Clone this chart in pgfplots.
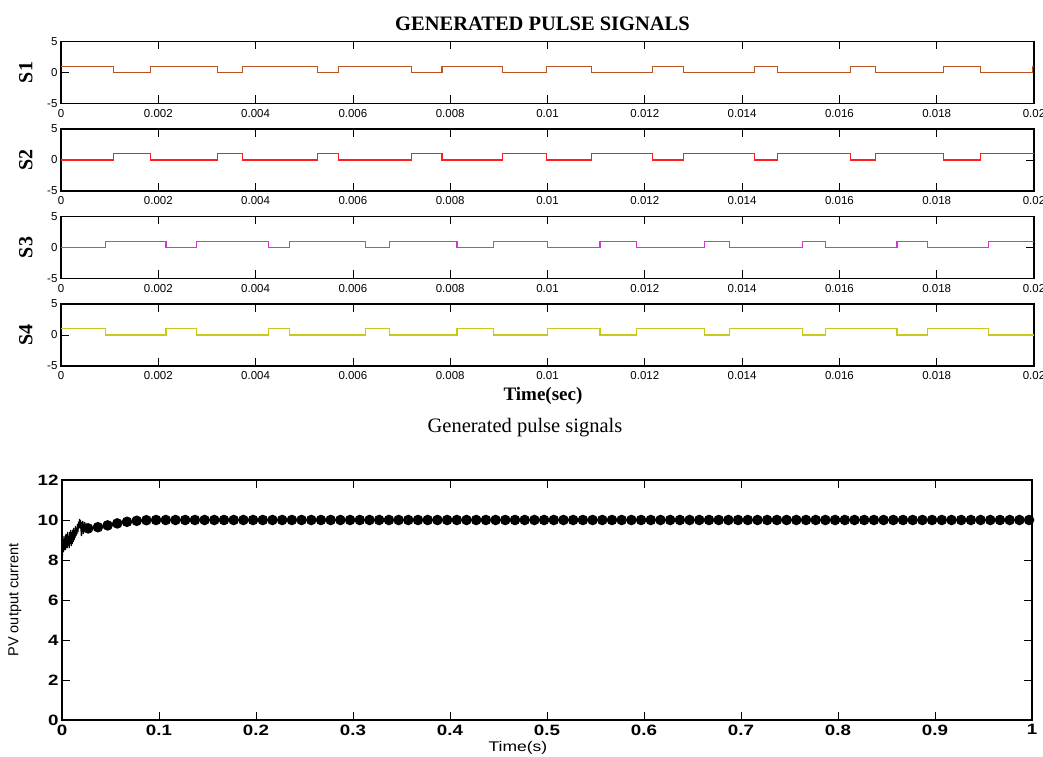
\documentclass[border=0pt]{standalone}
\usepackage{fontspec}
\setmainfont{Liberation Sans}
\newfontfamily\tnr{Liberation Serif}
\newfontfamily\widesans[FakeStretch=1.25]{Liberation Sans}
\usepackage{pgfplots}
\pgfplotsset{compat=1.18}

\definecolor{sone}{RGB}{185,85,35}
\definecolor{stwo}{RGB}{255,30,30}
\definecolor{sthree}{RGB}{215,50,215}
\definecolor{sfour}{RGB}{200,200,30}

\pgfplotsset{
 pulse/.style={
  scale only axis, width=973pt, height=62pt, anchor=south west,
  xmin=0, xmax=0.02, ymin=-5, ymax=5,
  scaled x ticks=false, scaled y ticks=false,
  xtick={0,0.002,0.004,0.006,0.008,0.01,0.012,0.014,0.016,0.018,0.02},
  xticklabels={0,0.002,0.004,0.006,0.008,0.01,0.012,0.014,0.016,0.018,0.02},
  ytick={-5,0,5}, yticklabels={-5,0,5},
  tick align=inside, major tick length=8pt,
  tick style={black, line width=0.7pt},
  axis line style={line width=1.1pt},
  tick label style={font=\fontsize{11.5}{13}\selectfont},
  xticklabel style={yshift=-2pt},
  every axis y label/.style={at={(rel axis cs:-0.036,0.5)}, rotate=90, anchor=center,
    font=\tnr\bfseries\fontsize{20}{22}\selectfont},
 },
 sig/.style={const plot, line width=1.3pt},
}

\begin{document}
\begin{tikzpicture}

\begin{axis}[pulse, at={(61pt,652.5pt)}, ylabel={S1}]
\addplot[sig, sone] coordinates {
(0,1)(0.001074,0)(0.001838,1)(0.003214,0)(0.003736,1)(0.005278,0)(0.005709,1)
(0.007210,0)(0.007829,1)(0.009079,0)(0.009983,1)(0.010908,0)(0.012162,1)
(0.012792,0)(0.014251,1)(0.014724,0)(0.016232,1)(0.016746,0)(0.018136,1)
(0.018896,0)(0.01997,1)(0.02,1)};
\end{axis}

\begin{axis}[pulse, at={(61pt,565pt)}, ylabel={S2}]
\addplot[sig, stwo] coordinates {
(0,0)(0.001074,1)(0.001838,0)(0.003214,1)(0.003736,0)(0.005278,1)(0.005709,0)
(0.007210,1)(0.007829,0)(0.009079,1)(0.009983,0)(0.010908,1)(0.012162,0)
(0.012792,1)(0.014251,0)(0.014724,1)(0.016232,0)(0.016746,1)(0.018136,0)
(0.018896,1)(0.02,1)};
\end{axis}

\begin{axis}[pulse, at={(61pt,477.5pt)}, ylabel={S3}]
\addplot[sig, sthree] coordinates {
(0,0)(0.000921,1)(0.002158,0)(0.002783,1)(0.004271,0)(0.004701,1)(0.006265,0)
(0.006758,1)(0.008142,0)(0.008892,1)(0.010004,0)(0.011079,1)(0.011833,0)
(0.013223,1)(0.013737,0)(0.015245,1)(0.015718,0)(0.017184,1)(0.017807,0)
(0.019061,1)(0.02,1)};
\end{axis}

\begin{axis}[pulse, at={(61pt,390pt)}, ylabel={S4}]
\addplot[sig, sfour] coordinates {
(0,1)(0.000921,0)(0.002158,1)(0.002783,0)(0.004271,1)(0.004701,0)(0.006265,1)
(0.006758,0)(0.008142,1)(0.008892,0)(0.010004,1)(0.011079,0)(0.011833,1)
(0.013223,0)(0.013737,1)(0.015245,0)(0.015718,1)(0.017184,0)(0.017807,1)
(0.019061,0)(0.02,0)};
\end{axis}

\node[font=\tnr\bfseries\fontsize{20.5}{22}\selectfont] at (542.5pt,732.5pt) {GENERATED PULSE SIGNALS};
\node[font=\tnr\bfseries\fontsize{19}{21}\selectfont] at (543pt,360pt) {Time(sec)};
\node[font=\tnr\fontsize{20.5}{22}\selectfont] at (525pt,328pt) {Generated pulse signals};

% PV output current
\begin{axis}[
 scale only axis, width=970pt, height=240pt, at={(62pt,36pt)}, anchor=south west,
 xmin=0, xmax=1, ymin=0, ymax=12,
 scaled x ticks=false,
 xtick={0,0.1,0.2,0.3,0.4,0.5,0.6,0.7,0.8,0.9,1},
 xticklabels={0,0.1,0.2,0.3,0.4,0.5,0.6,0.7,0.8,0.9,1},
 ytick={0,2,4,6,8,10,12}, yticklabels={0,2,4,6,8,10,12},
 tick align=inside, major tick length=8pt,
 tick style={black, line width=0.7pt},
 axis line style={line width=1.1pt},
 tick label style={font=\widesans\bfseries\fontsize{15}{17}\selectfont},
 xticklabel style={yshift=-1pt},
 every axis x label/.style={at={(rel axis cs:0.47,-0.117)}, anchor=center,
   font=\widesans\fontsize{14}{16}\selectfont},
 every axis y label/.style={at={(rel axis cs:-0.0485,0.5)}, rotate=90, anchor=center,
   font=\fontsize{14.5}{16}\selectfont},
 xlabel={Time(s)}, ylabel={PV output current},
]
\addplot[black, line width=1.2pt] coordinates {
(0,10.1)(0.0005,8.2)(0.001,9.0)(0.0015,8.4)(0.002,9.2)(0.0025,8.5)(0.003,9.1)
(0.0035,8.5)(0.004,9.3)(0.0045,8.6)(0.005,9.3)(0.0055,8.6)(0.006,9.4)(0.0065,8.7)
(0.007,9.2)(0.0075,8.6)(0.008,9.4)(0.0085,8.8)(0.009,9.5)(0.0095,8.7)(0.010,9.4)
(0.0105,8.8)(0.011,9.5)(0.0115,8.9)(0.012,9.6)(0.0125,9.0)(0.013,9.5)(0.0135,9.1)
(0.014,9.7)(0.0145,9.2)(0.015,9.6)(0.0155,9.3)(0.016,9.8)(0.0165,9.4)(0.017,9.9)
(0.0175,9.6)(0.018,10.05)(0.0185,9.8)(0.019,10.0)(0.0195,9.6)(0.020,9.2)
(0.0205,9.9)(0.021,9.4)(0.0215,9.95)(0.022,9.3)(0.0225,9.8)(0.023,9.5)
(0.0235,9.9)(0.024,9.6)(0.025,9.75)(0.026,9.5)(0.027,9.58)};
\addplot[black, line width=1.3pt, mark=*, mark size=4.6pt] coordinates {
(0.027,9.58)(0.037,9.64)(0.047,9.73)(0.057,9.83)(0.067,9.91)(0.077,9.96)(0.087,9.99)
(0.097,10)(0.107,10)(0.117,10)(0.127,10)(0.137,10)(0.147,10)(0.157,10)(0.167,10)
(0.177,10)(0.187,10)(0.197,10)(0.207,10)(0.217,10)(0.227,10)(0.237,10)(0.247,10)
(0.257,10)(0.267,10)(0.277,10)(0.287,10)(0.297,10)(0.307,10)(0.317,10)(0.327,10)
(0.337,10)(0.347,10)(0.357,10)(0.367,10)(0.377,10)(0.387,10)(0.397,10)(0.407,10)
(0.417,10)(0.427,10)(0.437,10)(0.447,10)(0.457,10)(0.467,10)(0.477,10)(0.487,10)
(0.497,10)(0.507,10)(0.517,10)(0.527,10)(0.537,10)(0.547,10)(0.557,10)(0.567,10)
(0.577,10)(0.587,10)(0.597,10)(0.607,10)(0.617,10)(0.627,10)(0.637,10)(0.647,10)
(0.657,10)(0.667,10)(0.677,10)(0.687,10)(0.697,10)(0.707,10)(0.717,10)(0.727,10)
(0.737,10)(0.747,10)(0.757,10)(0.767,10)(0.777,10)(0.787,10)(0.797,10)(0.807,10)
(0.817,10)(0.827,10)(0.837,10)(0.847,10)(0.857,10)(0.867,10)(0.877,10)(0.887,10)
(0.897,10)(0.907,10)(0.917,10)(0.927,10)(0.937,10)(0.947,10)(0.957,10)(0.967,10)
(0.977,10)(0.987,10)(0.997,10)};
\end{axis}

\pgfresetboundingbox
\useasboundingbox (0pt,0pt) rectangle (1043pt,756pt);
\end{tikzpicture}
\end{document}
